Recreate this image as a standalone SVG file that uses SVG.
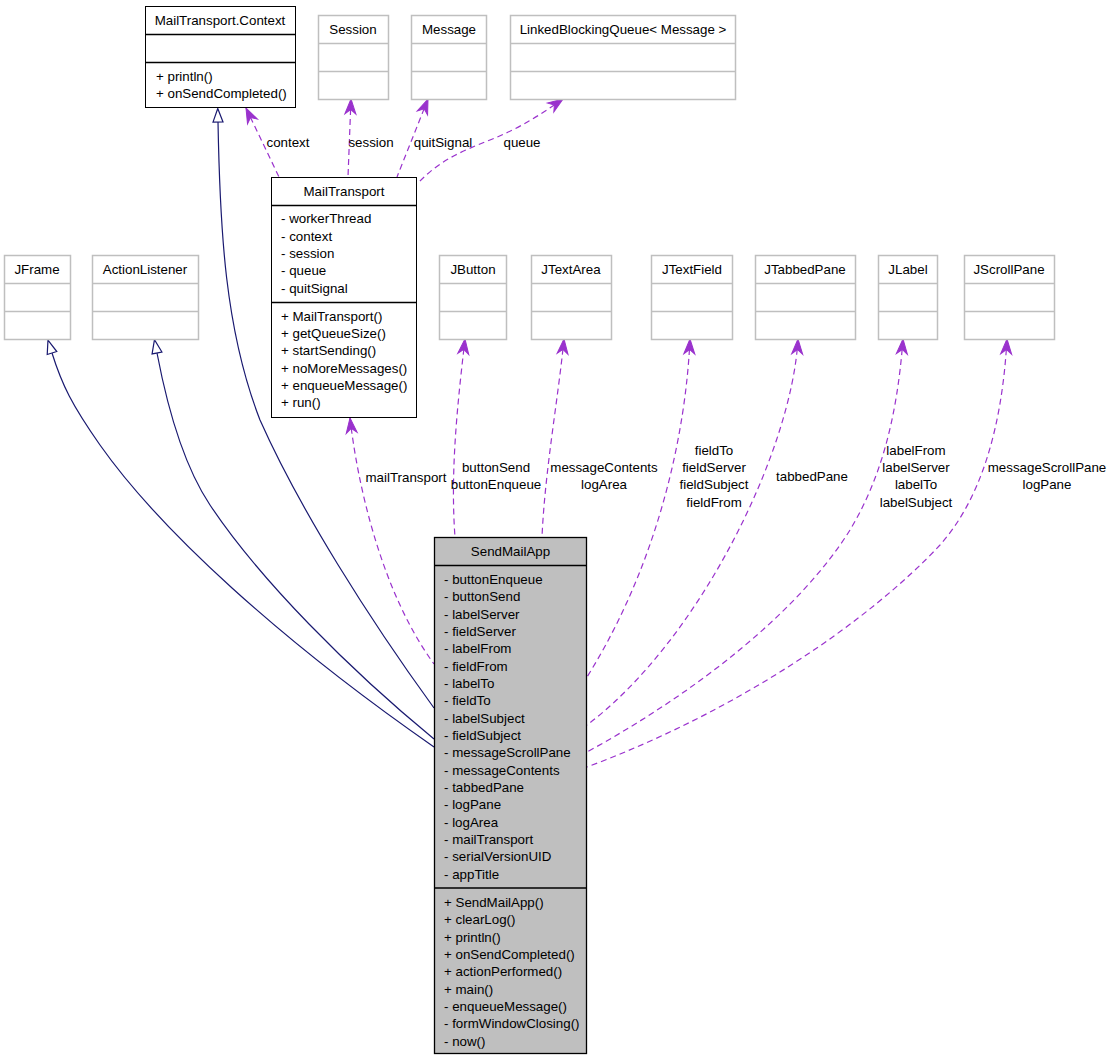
<svg xmlns="http://www.w3.org/2000/svg" width="1112" height="1061" viewBox="0 0 1112 1061">
<style>
text { font-family: "Liberation Sans", Arial, sans-serif; font-size: 13.33px; fill: #000; }
.t { text-anchor: middle; }
.box { fill: #fff; stroke: #000; stroke-width: 1; }
.gbox { fill: #fff; stroke: #bfbfbf; stroke-width: 1.5; }
.sbox { fill: #bfbfbf; stroke: #000; stroke-width: 1.3; }
.dv { stroke: #000; stroke-width: 1.3; }
.gdv { stroke: #bfbfbf; stroke-width: 1.5; }
.inh { fill: none; stroke: #191970; stroke-width: 1.2; marker-start: url(#tri); }
.dep { fill: none; stroke: #9a32cd; stroke-width: 1.2; stroke-dasharray: 6,4; marker-start: url(#vee); }
</style>
<defs>
<marker id="tri" markerUnits="userSpaceOnUse" markerWidth="16" markerHeight="12" refX="0" refY="5.5" orient="auto-start-reverse" overflow="visible">
<path d="M0,0.5 L13.5,5.5 L0,10.5 Z" fill="#fff" stroke="#191970" stroke-width="1.2"/>
</marker>
<marker id="vee" markerUnits="userSpaceOnUse" markerWidth="16" markerHeight="12" refX="15" refY="6" orient="auto-start-reverse" overflow="visible">
<path d="M0,0.5 L15,6 L0,11.5 L4.5,6 Z" fill="#9a32cd" stroke="#9a32cd" stroke-width="1"/>
</marker>
</defs>
<rect width="1112" height="1061" fill="#fff"/>

<g id="connectors">
<path class="inh" d="M218,122 C220,230 225,330 260,420 C300,510 370,620 434,708"/>
<path class="inh" d="M52,353 C62,385 72,405 100,445 C160,530 280,640 434,747"/>
<path class="inh" d="M157,353 C165,395 180,460 210,505 C260,580 350,670 434,739"/>
<path class="dep" d="M246,108 L279,177"/>
<path class="dep" d="M351,99 L348,177"/>
<path class="dep" d="M428,99 L397,177"/>
<path class="dep" d="M563,99 C540,115 520,128 490,140 C460,152 440,160 417,184"/>
<path class="dep" d="M350,418 C357,480 380,590 434,664"/>
<path class="dep" d="M465,339 C458,400 450,470 455,537"/>
<path class="dep" d="M564,339 C558,400 545,470 542,537"/>
<path class="dep" d="M690,339 C686,430 660,560 587,677"/>
<path class="dep" d="M798,339 C792,450 700,640 587,725"/>
<path class="dep" d="M903,339 C897,420 880,480 850,530 C800,610 700,690 587,752"/>
<path class="dep" d="M1007,339 C1002,430 980,500 940,545 C870,620 740,710 587,767"/>
<text class="t" x="288" y="146.5">context</text>
<text class="t" x="371" y="146.5">session</text>
<text class="t" x="443" y="146.5">quitSignal</text>
<text class="t" x="522" y="146.5">queue</text>
<text class="t" x="406" y="482">mailTransport</text>
<text class="t" x="496" y="472">buttonSend</text>
<text class="t" x="496" y="489">buttonEnqueue</text>
<text class="t" x="604" y="472">messageContents</text>
<text class="t" x="604" y="489">logArea</text>
<text class="t" x="714" y="455">fieldTo</text>
<text class="t" x="714" y="472">fieldServer</text>
<text class="t" x="714" y="489">fieldSubject</text>
<text class="t" x="714" y="507">fieldFrom</text>
<text class="t" x="812" y="481">tabbedPane</text>
<text class="t" x="916" y="455">labelFrom</text>
<text class="t" x="916" y="472">labelServer</text>
<text class="t" x="916" y="489">labelTo</text>
<text class="t" x="916" y="507">labelSubject</text>
<text class="t" x="1047" y="472">messageScrollPane</text>
<text class="t" x="1047" y="489">logPane</text>
</g>

<g id="node-context">
<rect class="box" x="145.5" y="6.5" width="150" height="101"/>
<line class="dv" x1="145.5" y1="34.5" x2="295.5" y2="34.5"/>
<line class="dv" x1="145.5" y1="62.5" x2="295.5" y2="62.5"/>
<text class="t" x="220" y="25">MailTransport.Context</text>
<text x="156" y="81">+ println()</text>
<text x="156" y="98">+ onSendCompleted()</text>
</g>

<g id="node-session">
<rect class="gbox" x="318.5" y="15.5" width="70" height="84"/>
<line class="gdv" x1="318.5" y1="43.5" x2="388.5" y2="43.5"/>
<line class="gdv" x1="318.5" y1="71.5" x2="388.5" y2="71.5"/>
<text class="t" x="353" y="33.5">Session</text>
</g>

<g id="node-message">
<rect class="gbox" x="411.5" y="15.5" width="75" height="84"/>
<line class="gdv" x1="411.5" y1="43.5" x2="486.5" y2="43.5"/>
<line class="gdv" x1="411.5" y1="71.5" x2="486.5" y2="71.5"/>
<text class="t" x="449" y="33.5">Message</text>
</g>

<g id="node-queue">
<rect class="gbox" x="510.5" y="15.5" width="225" height="84"/>
<line class="gdv" x1="510.5" y1="43.5" x2="735.5" y2="43.5"/>
<line class="gdv" x1="510.5" y1="71.5" x2="735.5" y2="71.5"/>
<text class="t" x="623" y="33.5">LinkedBlockingQueue&lt; Message &gt;</text>
</g>

<g id="node-mailtransport">
<rect class="box" x="271.5" y="177.5" width="145" height="240"/>
<line class="dv" x1="271.5" y1="205.5" x2="416.5" y2="205.5"/>
<line class="dv" x1="271.5" y1="302.5" x2="416.5" y2="302.5"/>
<text class="t" x="344" y="196">MailTransport</text>
<text x="281" y="223.3">- workerThread</text>
<text x="281" y="240.7">- context</text>
<text x="281" y="258">- session</text>
<text x="281" y="275.3">- queue</text>
<text x="281" y="292.7">- quitSignal</text>
<text x="281" y="320.7">+ MailTransport()</text>
<text x="281" y="338">+ getQueueSize()</text>
<text x="281" y="355.3">+ startSending()</text>
<text x="281" y="372.7">+ noMoreMessages()</text>
<text x="281" y="390">+ enqueueMessage()</text>
<text x="281" y="407.3">+ run()</text>
</g>

<g id="node-jframe">
<rect class="gbox" x="4.5" y="255.5" width="66" height="84"/>
<line class="gdv" x1="4.5" y1="283.5" x2="70.5" y2="283.5"/>
<line class="gdv" x1="4.5" y1="311.5" x2="70.5" y2="311.5"/>
<text class="t" x="37" y="274">JFrame</text>
</g>

<g id="node-actionlistener">
<rect class="gbox" x="92.5" y="255.5" width="106" height="84"/>
<line class="gdv" x1="92.5" y1="283.5" x2="198.5" y2="283.5"/>
<line class="gdv" x1="92.5" y1="311.5" x2="198.5" y2="311.5"/>
<text class="t" x="145" y="274">ActionListener</text>
</g>

<g id="node-jbutton">
<rect class="gbox" x="439.5" y="255.5" width="67" height="84"/>
<line class="gdv" x1="439.5" y1="283.5" x2="506.5" y2="283.5"/>
<line class="gdv" x1="439.5" y1="311.5" x2="506.5" y2="311.5"/>
<text class="t" x="473" y="274">JButton</text>
</g>

<g id="node-jtextarea">
<rect class="gbox" x="531.5" y="255.5" width="80" height="84"/>
<line class="gdv" x1="531.5" y1="283.5" x2="611.5" y2="283.5"/>
<line class="gdv" x1="531.5" y1="311.5" x2="611.5" y2="311.5"/>
<text class="t" x="571" y="274">JTextArea</text>
</g>

<g id="node-jtextfield">
<rect class="gbox" x="651.5" y="255.5" width="81" height="84"/>
<line class="gdv" x1="651.5" y1="283.5" x2="732.5" y2="283.5"/>
<line class="gdv" x1="651.5" y1="311.5" x2="732.5" y2="311.5"/>
<text class="t" x="692" y="274">JTextField</text>
</g>

<g id="node-jtabbedpane">
<rect class="gbox" x="755.5" y="255.5" width="100" height="84"/>
<line class="gdv" x1="755.5" y1="283.5" x2="855.5" y2="283.5"/>
<line class="gdv" x1="755.5" y1="311.5" x2="855.5" y2="311.5"/>
<text class="t" x="805" y="274">JTabbedPane</text>
</g>

<g id="node-jlabel">
<rect class="gbox" x="878.5" y="255.5" width="59" height="84"/>
<line class="gdv" x1="878.5" y1="283.5" x2="937.5" y2="283.5"/>
<line class="gdv" x1="878.5" y1="311.5" x2="937.5" y2="311.5"/>
<text class="t" x="908" y="274">JLabel</text>
</g>

<g id="node-jscrollpane">
<rect class="gbox" x="964.5" y="255.5" width="90" height="84"/>
<line class="gdv" x1="964.5" y1="283.5" x2="1054.5" y2="283.5"/>
<line class="gdv" x1="964.5" y1="311.5" x2="1054.5" y2="311.5"/>
<text class="t" x="1009" y="274">JScrollPane</text>
</g>

<g id="node-sendmailapp">
<rect class="sbox" x="434.5" y="537.5" width="152" height="516"/>
<line class="dv" x1="434.5" y1="565.5" x2="586.5" y2="565.5"/>
<line class="dv" x1="434.5" y1="888" x2="586.5" y2="888"/>
<text class="t" x="510.5" y="556">SendMailApp</text>
<text x="444" y="584">- buttonEnqueue</text>
<text x="444" y="601.3">- buttonSend</text>
<text x="444" y="618.7">- labelServer</text>
<text x="444" y="636">- fieldServer</text>
<text x="444" y="653.3">- labelFrom</text>
<text x="444" y="670.7">- fieldFrom</text>
<text x="444" y="688">- labelTo</text>
<text x="444" y="705.3">- fieldTo</text>
<text x="444" y="722.7">- labelSubject</text>
<text x="444" y="740">- fieldSubject</text>
<text x="444" y="757.3">- messageScrollPane</text>
<text x="444" y="774.7">- messageContents</text>
<text x="444" y="792">- tabbedPane</text>
<text x="444" y="809.3">- logPane</text>
<text x="444" y="826.7">- logArea</text>
<text x="444" y="844">- mailTransport</text>
<text x="444" y="861.3">- serialVersionUID</text>
<text x="444" y="878.7">- appTitle</text>
<text x="444" y="907">+ SendMailApp()</text>
<text x="444" y="924.3">+ clearLog()</text>
<text x="444" y="941.7">+ println()</text>
<text x="444" y="959">+ onSendCompleted()</text>
<text x="444" y="976.3">+ actionPerformed()</text>
<text x="444" y="993.7">+ main()</text>
<text x="444" y="1011">- enqueueMessage()</text>
<text x="444" y="1028.3">- formWindowClosing()</text>
<text x="444" y="1045.7">- now()</text>
</g>
</svg>
